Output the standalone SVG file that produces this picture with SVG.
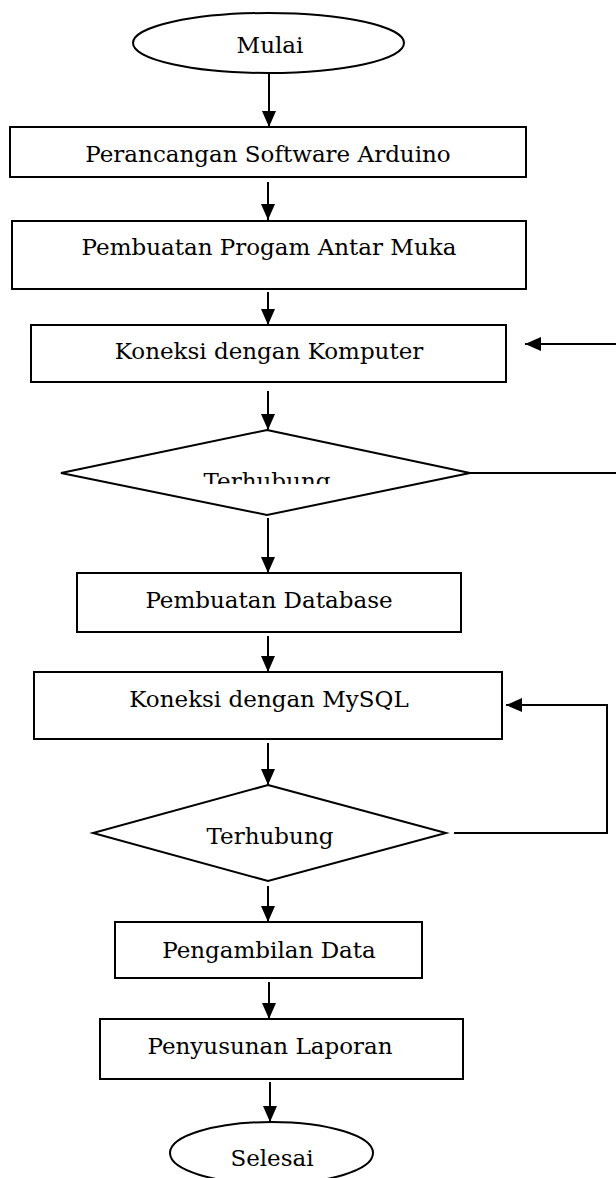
<svg xmlns="http://www.w3.org/2000/svg" width="616" height="1178" viewBox="0 0 616 1178">
<style>
.s{fill:#fff;stroke:#000;stroke-width:2}
.t{font-family:"DejaVu Serif","Liberation Serif",serif;font-size:23px;fill:#000;text-anchor:middle}
.c{fill:none;stroke:#000;stroke-width:2}
</style>
<defs>
<marker id="ah" markerUnits="userSpaceOnUse" markerWidth="16" markerHeight="14" refX="16" refY="7" orient="auto">
<path d="M0,0 L16,7 L0,14 z" fill="#000"/>
</marker>
<clipPath id="clip1"><rect x="0" y="440" width="616" height="44"/></clipPath>
</defs>
<rect width="616" height="1178" fill="#fff"/>
<g id="connectors">
<line class="c" x1="269" y1="73" x2="269" y2="127" marker-end="url(#ah)"/>
<line class="c" x1="268" y1="182" x2="268" y2="220" marker-end="url(#ah)"/>
<line class="c" x1="268" y1="292" x2="268" y2="325" marker-end="url(#ah)"/>
<line class="c" x1="268" y1="391" x2="268" y2="430" marker-end="url(#ah)"/>
<line class="c" x1="268" y1="518" x2="268" y2="573" marker-end="url(#ah)"/>
<line class="c" x1="268" y1="636" x2="268" y2="672" marker-end="url(#ah)"/>
<line class="c" x1="268" y1="743" x2="268" y2="785" marker-end="url(#ah)"/>
<line class="c" x1="268" y1="886" x2="268" y2="922" marker-end="url(#ah)"/>
<line class="c" x1="269" y1="982" x2="269" y2="1019" marker-end="url(#ah)"/>
<line class="c" x1="270" y1="1082" x2="270" y2="1122" marker-end="url(#ah)"/>
<line class="c" x1="470" y1="473" x2="616" y2="473"/>
<line class="c" x1="616" y1="344" x2="525" y2="344" marker-end="url(#ah)"/>
<polyline class="c" points="454,833 607,833 607,705 506,705" marker-end="url(#ah)"/>
</g>
<g id="mulai"><ellipse class="s" cx="268.5" cy="43" rx="135.5" ry="30"/><text class="t" x="270" y="53">Mulai</text></g>
<g id="perancangan"><rect class="s" x="10" y="127" width="516" height="50"/><text class="t" x="268" y="162">Perancangan Software Arduino</text></g>
<g id="antarmuka"><rect class="s" x="12" y="221" width="514" height="68"/><text class="t" x="269" y="255">Pembuatan Progam Antar Muka</text></g>
<g id="koneksi-komputer"><rect class="s" x="31" y="325" width="475" height="57"/><text class="t" x="269" y="359">Koneksi dengan Komputer</text></g>
<g id="terhubung1"><polygon class="s" points="267,430 470,473 267,515 61,473"/><text class="t" x="267" y="489" clip-path="url(#clip1)">Terhubung</text></g>
<g id="database"><rect class="s" x="77" y="573" width="384" height="59"/><text class="t" x="269" y="608">Pembuatan Database</text></g>
<g id="koneksi-mysql"><rect class="s" x="34" y="672" width="468" height="67"/><text class="t" x="269" y="707">Koneksi dengan MySQL</text></g>
<g id="terhubung2"><polygon class="s" points="268,785 446,833 268,881 93,833"/><text class="t" x="270" y="844">Terhubung</text></g>
<g id="pengambilan"><rect class="s" x="115" y="922" width="307" height="56"/><text class="t" x="269" y="958">Pengambilan Data</text></g>
<g id="penyusunan"><rect class="s" x="100" y="1019" width="363" height="60"/><text class="t" x="270" y="1054">Penyusunan Laporan</text></g>
<g id="selesai"><ellipse class="s" cx="271.5" cy="1153" rx="101.5" ry="31"/><text class="t" x="272" y="1166">Selesai</text></g>
</svg>
